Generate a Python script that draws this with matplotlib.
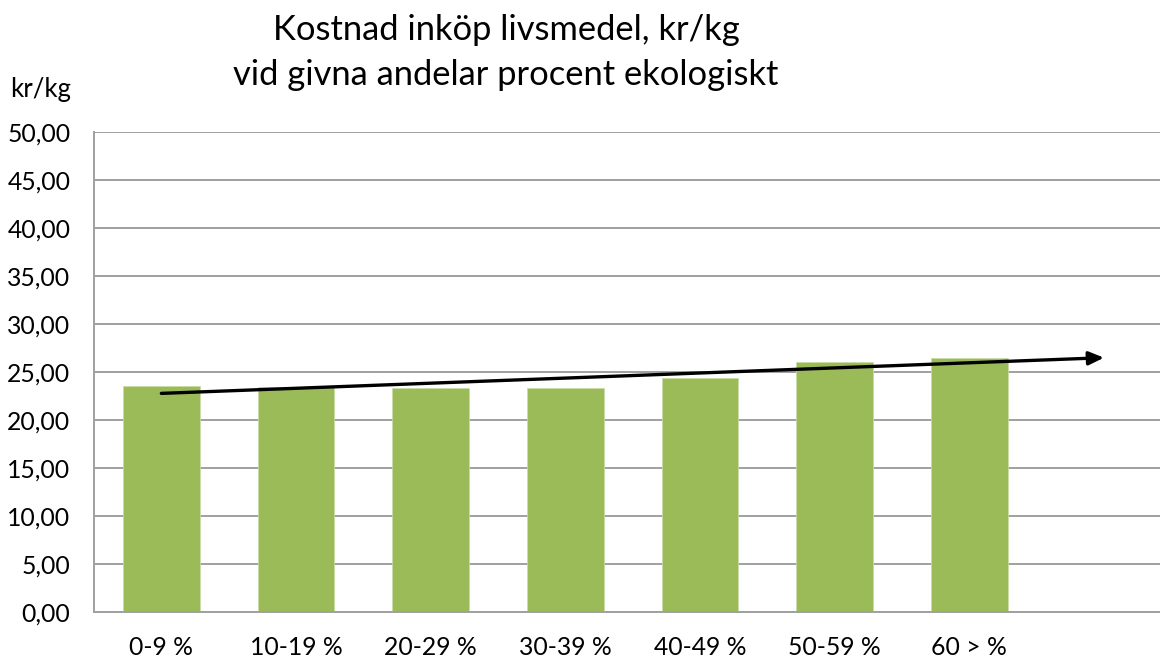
import numpy as np
import matplotlib
matplotlib.use("Agg")
import matplotlib.pyplot as plt

plt.rcParams["font.family"] = ["Lato", "DejaVu Sans"]

categories = ["0-9 %", "10-19 %", "20-29 %", "30-39 %", "40-49 %", "50-59 %", "60 > %", ""]
values = [23.58, 23.44, 23.30, 23.37, 24.41, 26.00, 26.46]
yticks = np.arange(0, 55, 5)

fig = plt.figure(figsize=(11.6, 6.62), dpi=100)
ax = fig.add_axes([94 / 1160, 50 / 662, 1 - 94 / 1160, 480 / 662])

x = np.arange(len(values))
ax.bar(x, values, width=0.57, color="#9BBB59", edgecolor="#c9dba5", linewidth=0.5, zorder=2)

# linear trend, extended one period forward
k, m = np.polyfit(x, values, 1)
x_end = len(values)
ax.annotate("", xy=(x_end, k * x_end + m), xytext=(0, m),
            arrowprops=dict(arrowstyle="-|>,head_length=0.9,head_width=0.4",
                            color="black", lw=2.4, shrinkA=0, shrinkB=0),
            zorder=3)

ax.set_xlim(-0.5, 7.416)
ax.set_ylim(0, 50)
ax.set_yticks(yticks)
ax.set_yticklabels([f"{v:.2f}".replace(".", ",") for v in yticks], fontsize=17.8)
ax.set_xticks(np.arange(len(categories)))
ax.set_xticklabels(categories, fontsize=17.8)
ax.tick_params(length=0)
ax.tick_params(axis="x", pad=17)
ax.tick_params(axis="y", pad=17)

ax.grid(axis="y", color="#a0a0a0", lw=1.4, zorder=0)
for s in ["top", "right"]:
    ax.spines[s].set_visible(False)
ax.spines["left"].set_color("#a0a0a0")
ax.spines["bottom"].set_color("#a0a0a0")
ax.spines["left"].set_linewidth(1.4)
ax.spines["bottom"].set_linewidth(1.4)

fig.text(506 / 1160, 1 - 30 / 662, "Kostnad inköp livsmedel, kr/kg", ha="center", va="center", fontsize=24.8)
fig.text(506 / 1160, 1 - 75 / 662, "vid givna andelar procent ekologiskt", ha="center", va="center", fontsize=24.8)
fig.text(10 / 1160, 1 - 90 / 662, "kr/kg", ha="left", va="center", fontsize=18.5)

fig.savefig("out.png", dpi=100)
